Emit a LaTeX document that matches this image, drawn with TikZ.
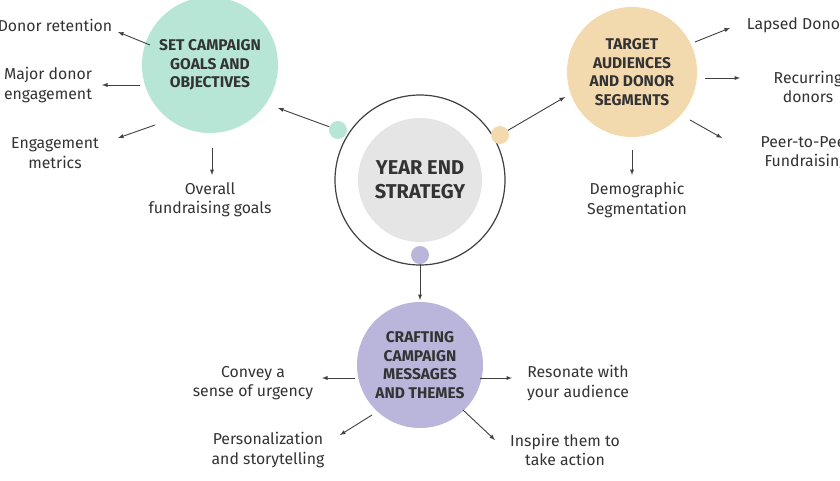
\documentclass[tikz,border=0pt]{standalone}
\usepackage{fontspec}
\setmainfont{Fira Sans}
\begin{document}
\begin{tikzpicture}[x=1pt,y=-1pt,
  lbl/.style={align=center,text=black!80,font=\fontsize{15.8}{19.5}\selectfont},
  ttl/.style={align=center,text=black!80,font=\fontsize{15.5}{18.5}\selectfont\bfseries},
  arr/.style={-latex,draw=black!75,line width=0.9pt},
  dot/.style={circle,minimum size=18pt,inner sep=0pt}]
\useasboundingbox (0,0) rectangle (840,480);
\clip (0,0) rectangle (840,480);
\fill[white] (0,0) rectangle (840,480);
% center
\node[circle,draw=black!75,line width=1.2pt,minimum size=170pt] (ring) at (420,180) {};
\node[circle,fill=black!10,minimum size=124pt,align=center,text=black!80,font=\fontsize{20}{24}\selectfont\bfseries] (c) at (420,180) {YEAR END\\STRATEGY};
\node[dot,fill={rgb,255:red,184;green,230;blue,214}] (dg) at (338,130) {};
\node[dot,fill={rgb,255:red,243;green,217;blue,174}] (do) at (500,135) {};
\node[dot,fill={rgb,255:red,185;green,181;blue,219}] (dp) at (420,255) {};
% satellites
\node[circle,minimum size=136pt,fill={rgb,255:red,184;green,230;blue,214},ttl] (g) at (210,65) {SET CAMPAIGN\\GOALS AND\\OBJECTIVES};
\node[circle,minimum size=130pt,fill={rgb,255:red,243;green,217;blue,174},ttl] (o) at (632,72) {TARGET\\AUDIENCES\\AND DONOR\\SEGMENTS};
\node[circle,minimum size=126pt,fill={rgb,255:red,185;green,181;blue,219},ttl] (p) at (420,365) {CRAFTING\\CAMPAIGN\\MESSAGES\\AND THEMES};
\draw[arr] (dg) -- (278,108);
\draw[arr] (do) -- (565,97);
\draw[arr] (dp) -- (420,300);
% labels
\node[lbl] (g1) at (55,25) {Donor retention};
\node[lbl] (g2) at (48,85) {Major donor\\engagement};
\node[lbl] (g3) at (55,153) {Engagement\\metrics};
\node[lbl] (g4) at (210,200) {Overall\\fundraising goals};
\node[lbl] (o1) at (800,25) {Lapsed Donors};
\node[lbl] (o2) at (808,87) {Recurring\\donors};
\node[lbl] (o3) at (806,153) {Peer-to-Peer\\Fundraising};
\node[lbl] (o4) at (637,200) {Demographic\\Segmentation};
\node[lbl] (p1) at (253,383) {Convey a\\sense of urgency};
\node[lbl] (p2) at (268,450) {Personalization\\and storytelling};
\node[lbl] (p3) at (578,383) {Resonate with\\your audience};
\node[lbl] (p4) at (565,450) {Inspire them to\\take action};
\coordinate (a1) at (118,32); \coordinate (a2) at (102,85); \coordinate (a3) at (118,138); \coordinate (a4) at (212,175);
\draw[arr] (150,45) -- (a1); \draw[arr] (140,85) -- (a2); \draw[arr] (155,125) -- (a3); \draw[arr] (212,148) -- (a4);
\coordinate (b1) at (730,28); \coordinate (b2) at (740,78); \coordinate (b3) at (722,138); \coordinate (b4) at (632,175);
\draw[arr] (695,42) -- (b1); \draw[arr] (705,78) -- (b2); \draw[arr] (690,120) -- (b3); \draw[arr] (632,150) -- (b4);
\coordinate (c1) at (322,378); \coordinate (c2) at (340,435); \coordinate (c3) at (512,378); \coordinate (c4) at (495,440);
\draw[arr] (355,378) -- (c1); \draw[arr] (372,415) -- (c2); \draw[arr] (480,378) -- (c3); \draw[arr] (463,410) -- (c4);
\end{tikzpicture}
\end{document}
